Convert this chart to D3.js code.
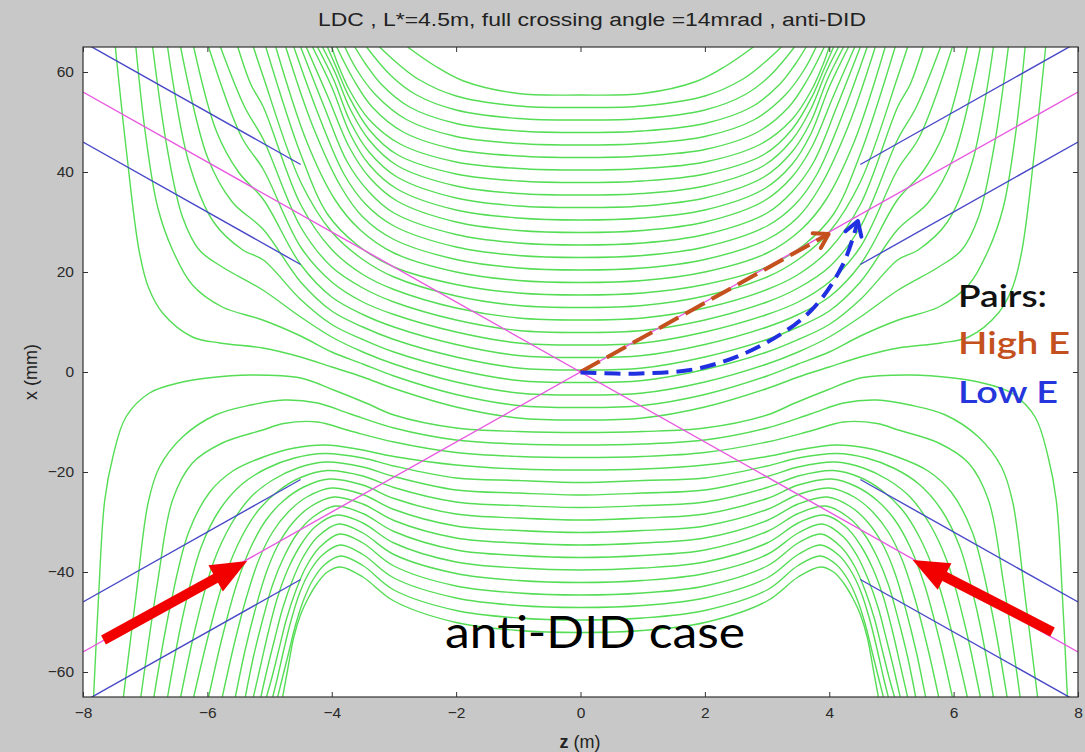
<!DOCTYPE html>
<html><head><meta charset="utf-8">
<script src="https://cdn.jsdelivr.net/npm/d3@7"></script>
<style>html,body{margin:0;padding:0;background:#c8c8c8;} svg{display:block;}</style>
</head><body><svg id="c" width="1085" height="752"></svg>
<script>
// ---------- data (z in m, x in mm); each field line given for z<=0, mirrored about z=0 ----------
const titleText = "LDC , L*=4.5m,  full crossing angle =14mrad , anti-DID";
const zTicks = [-8,-6,-4,-2,0,2,4,6,8];
const xTicks = [-60,-40,-20,0,20,40,60];

// lines leaving through the top in the central region
const upperExitLines = [
 [[0,55.4],[-1,55.7],[-1.88,58.2],[-2.35,61.3],[-2.78,65]],
 [[0,52.9],[-1,53.2],[-2,55.2],[-2.6,58.5],[-2.95,61.8],[-3.23,65]],
 [[0,50.4],[-1,50.7],[-2,52.4],[-2.65,55.5],[-3.05,59.3],[-3.44,65]],
 [[0,47.9],[-1,48.2],[-2,49.7],[-2.75,53],[-3.2,57.5],[-3.45,61.5],[-3.63,65]],
 [[0,45.4],[-1,45.7],[-2,47.1],[-2.8,50.5],[-3.3,55.5],[-3.6,60.5],[-3.79,65]],
 [[0,42.9],[-1,43.2],[-2,44.5],[-2.85,48],[-3.35,53],[-3.65,58.5],[-3.92,65]],
 [[0,40.4],[-1,40.7],[-2,42],[-2.9,45.6],[-3.4,50.5],[-3.72,56.5],[-3.9,61.5],[-4.0,65]]
];
// dense bundle near |z| = 4..5
const bundleLines = [
 [[0,37.9],[-1,38.2],[-2,39.6],[-2.95,43.5],[-3.4,48.5],[-3.72,55],[-3.93,61],[-4.07,65]],
 [[0,35.4],[-1,35.7],[-2,37.2],[-2.95,41.3],[-3.4,46.4],[-3.7,52.5],[-3.95,60],[-4.15,65]],
 [[0,32.9],[-1,33.2],[-2,34.8],[-2.95,39],[-3.4,44],[-3.7,50],[-3.97,58.5],[-4.23,65]],
 [[0,30.4],[-1,30.8],[-2,32.4],[-2.95,36.6],[-3.4,41.5],[-3.7,47.5],[-4.0,57],[-4.31,65]],
 [[0,27.9],[-1,28.3],[-2,30],[-2.95,34.2],[-3.4,39],[-3.72,45],[-4.06,55],[-4.41,65]],
 [[0,25.4],[-1,25.8],[-2,27.5],[-3,31.8],[-3.4,36],[-3.75,42],[-4.12,53],[-4.5,65]],
 [[0,22.9],[-1,23.3],[-2,25],[-3,29.2],[-3.45,33.5],[-3.8,39.5],[-4.2,51],[-4.61,65]],
 [[0,20.4],[-1,20.8],[-2,22.5],[-3,26.5],[-3.5,31],[-3.85,37],[-4.3,49],[-4.74,65]],
 [[0,17.9],[-1,18.3],[-2,20],[-3,23.8],[-3.55,28.5],[-3.95,34.5],[-4.4,46],[-4.9,65]],
 [[0,15.4],[-1,15.8],[-2,17.5],[-3,21],[-3.6,25.5],[-4.07,31.6],[-4.5,43.6],[-5.06,65]]
];
// upper outer fan
const fanLines = [
 [[0,12.9],[-1,13.3],[-2,15.2],[-3,19],[-3.5,22.5],[-4,28],[-4.5,38],[-5.1,59],[-5.26,65]],
 [[0,10.4],[-1,10.8],[-2,12.8],[-3,16.5],[-3.5,19.5],[-4,24.5],[-4.5,33.5],[-5.1,53],[-5.3,57.5],[-5.51,65]],
 [[0,7.9],[-1,8.3],[-2,10.4],[-3,14],[-3.5,16.8],[-4,21],[-4.5,29],[-5.1,46.5],[-5.4,53],[-5.79,65]],
 [[0,5.4],[-1,5.8],[-2,8],[-3,11.5],[-3.5,14],[-4,18],[-4.5,25],[-5.1,40.5],[-5.45,47],[-5.98,65]],
 [[0,2.9],[-1,3.3],[-2,5.5],[-3,9],[-3.5,11.5],[-4,15],[-4.5,21.5],[-5.1,34.5],[-5.5,40],[-5.85,48],[-6.22,65]],
 [[0,0.4],[-1,0.8],[-2,3],[-3,6.5],[-3.5,9],[-4,12.2],[-4.5,18],[-5.1,28.5],[-5.6,34],[-6,43],[-6.43,65]],
 [[0,-2.1],[-1,-1.7],[-2,0.5],[-3,4],[-3.5,6.5],[-4,9.5],[-4.5,14.5],[-5.1,22.4],[-5.43,24.4],[-5.9,30],[-6.3,42],[-6.64,65]],
 [[0,-4.6],[-1,-4.2],[-2,-2],[-3,1.6],[-3.5,4],[-4,7],[-4.5,11],[-5.11,16.4],[-5.76,21],[-6.13,24.4],[-6.4,31],[-6.65,45],[-6.88,65]],
 [[0,-7.1],[-1,-6.7],[-2,-4.5],[-3,-0.8],[-3.5,1.6],[-4,4],[-4.5,7.2],[-5.11,10.4],[-5.76,13],[-6.24,17.4],[-6.56,24.4],[-6.8,33],[-7.0,48],[-7.15,65]],
 [[0,-9.6],[-1,-9.2],[-2,-7],[-3,-3.3],[-3.5,-1],[-4,1],[-4.5,3],[-5.11,4.8],[-5.8,5.8],[-6.24,7],[-6.72,11.8],[-6.95,17],[-7.1,24.4],[-7.3,44],[-7.48,65]]
];
// lower lines (humps, lower outer fan), leaving through the bottom
const lowerLines = [
 [[0,-12.1],[-1,-11.9],[-2,-11.2],[-3,-8.6],[-3.45,-6.2],[-3.97,-3.6],[-4.5,-1.2],[-5.31,-0.6],[-6.0,-1.2],[-6.4,-2],[-6.93,-4.2],[-7.31,-9],[-7.52,-17],[-7.65,-25.6],[-7.75,-45],[-7.83,-65]],
 [[0,-14.6],[-1,-14.4],[-2,-13.6],[-3,-11.2],[-3.7,-8.4],[-4.23,-6.2],[-4.77,-5.6],[-5.3,-6.6],[-5.87,-8.6],[-6.4,-13],[-6.77,-19],[-6.95,-26],[-7.15,-45],[-7.35,-65]],
 [[0,-17.1],[-1,-16.9],[-2,-16.1],[-3,-14],[-3.7,-11.8],[-4.23,-10],[-4.77,-10.3],[-5.11,-11.6],[-5.76,-14.2],[-6.24,-18.2],[-6.56,-25.6],[-6.8,-42],[-7.07,-65]],
 [[0,-19.6],[-1,-19.4],[-2,-18.6],[-3,-16.9],[-3.6,-15.4],[-4.1,-14.6],[-4.6,-15.2],[-5.1,-17],[-5.59,-19.8],[-5.96,-24],[-6.3,-32],[-6.6,-47],[-6.86,-65]],
 [[0,-22.1],[-1,-21.7],[-2,-21.2],[-3,-18.8],[-3.5,-17.2],[-4.12,-16.3],[-4.6,-17.2],[-5.05,-19.3],[-5.45,-22.5],[-5.8,-27.5],[-6.1,-35],[-6.38,-48],[-6.64,-65]],
 [[0,-24.6],[-1,-24.2],[-2,-23.6],[-3,-20.9],[-3.5,-19],[-4.1,-18],[-4.55,-19.2],[-4.95,-21.6],[-5.3,-25],[-5.62,-30.5],[-5.9,-38],[-6.17,-50],[-6.43,-65]],
 [[0,-27.1],[-1,-26.7],[-2,-26],[-3,-23.1],[-3.5,-20.8],[-4.07,-19.7],[-4.5,-21.1],[-4.86,-23.8],[-5.17,-27.5],[-5.45,-33],[-5.72,-41],[-5.97,-52],[-6.22,-65]],
 [[0,-29.6],[-1,-29.2],[-2,-28.4],[-3,-25.3],[-3.5,-22.6],[-4.04,-21.4],[-4.45,-23],[-4.78,-25.8],[-5.05,-29.5],[-5.3,-35],[-5.53,-42.5],[-5.76,-53],[-5.98,-65]],
 [[0,-32.1],[-1,-31.7],[-2,-30.8],[-3,-27.5],[-3.5,-24.5],[-4.0,-23.2],[-4.4,-25],[-4.7,-28],[-4.95,-32],[-5.17,-37.5],[-5.37,-45],[-5.57,-54.5],[-5.76,-65]],
 [[0,-34.6],[-1,-34.2],[-2,-33.2],[-3,-29.7],[-3.5,-26.4],[-3.97,-25],[-4.35,-27],[-4.63,-30.2],[-4.86,-34.5],[-5.05,-40],[-5.23,-47.5],[-5.4,-56],[-5.55,-65]],
 [[0,-37.1],[-1,-36.7],[-2,-35.6],[-3,-31.9],[-3.5,-28.3],[-3.94,-26.8],[-4.3,-29],[-4.56,-32.4],[-4.77,-37],[-4.95,-42.5],[-5.11,-49.5],[-5.26,-57],[-5.39,-65]],
 [[0,-39.6],[-1,-39.2],[-2,-38],[-3,-34.2],[-3.5,-30.2],[-3.91,-28.6],[-4.27,-31],[-4.5,-34.6],[-4.7,-39.3],[-4.87,-45],[-5.01,-51.5],[-5.14,-58.5],[-5.26,-65]],
 [[0,-42.1],[-1,-41.7],[-2,-40.3],[-3,-36.5],[-3.5,-32.2],[-3.89,-30.4],[-4.23,-33],[-4.45,-36.8],[-4.63,-41.6],[-4.79,-47.3],[-4.92,-53.5],[-5.04,-59.5],[-5.14,-65]],
 [[0,-44.6],[-1,-44.2],[-2,-42.8],[-3,-38.8],[-3.5,-34.2],[-3.87,-32.4],[-4.19,-35],[-4.41,-38.9],[-4.58,-43.8],[-4.73,-49.5],[-4.85,-55.5],[-4.96,-61],[-5.05,-65]],
 [[0,-47.1],[-1,-46.7],[-2,-45.2],[-3,-41.2],[-3.5,-36.5],[-3.86,-34.6],[-4.15,-36.6],[-4.35,-39.8],[-4.51,-44],[-4.65,-49.5],[-4.77,-55.5],[-4.87,-61],[-4.95,-65]],
 [[0,-49.6],[-1,-49.2],[-2,-47.7],[-3,-43.6],[-3.5,-38.7],[-3.86,-36.8],[-4.12,-38.6],[-4.3,-41.5],[-4.45,-45.5],[-4.58,-50.5],[-4.7,-56.5],[-4.8,-61.5],[-4.87,-65]],
 [[0,-52.1],[-1,-51.7],[-2,-50.1],[-3,-45.8],[-3.5,-41],[-3.86,-39],[-4.07,-40],[-4.23,-42.2],[-4.39,-45.5],[-4.5,-48.5],[-4.61,-53],[-4.71,-59.6],[-4.79,-65]]
];

// beam lines (magenta) and beam-pipe apertures (blue)
const beamLines = [[[-8,56],[8,-56]], [[-8,-56],[8,56]]];
const apertureLines = [
 [[-8,66],[-4.5,41.5]], [[-8,46],[-4.5,21.5]],
 [[-8,-46],[-4.5,-21.5]], [[-8,-66],[-4.5,-41.5]],
 [[8,66],[4.5,41.5]], [[8,46],[4.5,21.5]],
 [[8,-46],[4.5,-21.5]], [[8,-66],[4.5,-41.5]]
];
// incoming beam arrows
const beamArrows = [[[-7.67,-53.6],[-5.36,-37.8]], [[7.59,-52],[5.34,-37.6]]];
// pair trajectories
const highEPath = [[0,0],[3.99,27.6]];
const lowEPath = [[0,-0.1],[0.96,-0.3],[1.93,0.8],[2.89,5.2],[3.7,12.2],[4.22,21.5],[4.46,30.2]];

const legendItems = [
 {label:"Pairs:", color:"#111111"},
 {label:"High E", color:"#c4501e"},
 {label:"Low E", color:"#2436dc"}
];

// ---------- drawing ----------
const W=1085,H=752, L=83,R=1078,T=47,B=697;
const svg = d3.select('#c');
svg.append('rect').attr('width',W).attr('height',H).attr('fill','#c8c8c8');
const xS = d3.scaleLinear().domain([-8,8]).range([L,R]);
const yS = d3.scaleLinear().domain([-65,65]).range([B,T]);

svg.append('rect').attr('x',L).attr('y',T).attr('width',R-L).attr('height',B-T).attr('fill','#ffffff');
svg.append('defs').append('clipPath').attr('id','clip')
  .append('rect').attr('x',L).attr('y',T).attr('width',R-L).attr('height',B-T);
const g = svg.append('g').attr('clip-path','url(#clip)');

const curveLine = d3.line().x(d=>xS(d[0])).y(d=>yS(d[1])).curve(d3.curveCatmullRom.alpha(0.5));
const straight = d3.line().x(d=>xS(d[0])).y(d=>yS(d[1]));
const mirror = half => half.slice().reverse().concat(half.slice(1).map(p=>[-p[0],p[1]]));

[...upperExitLines, ...bundleLines, ...fanLines, ...lowerLines].forEach(h=>{
  g.append('path').attr('d', curveLine(mirror(h))).attr('fill','none')
   .attr('stroke','#55dd55').attr('stroke-width',1.4);
});

beamLines.forEach(s=> g.append('path').attr('d',straight(s)).attr('fill','none')
  .attr('stroke','#e858e0').attr('stroke-width',1.4));
apertureLines.forEach(s=> g.append('path').attr('d',straight(s)).attr('fill','none')
  .attr('stroke','#4848c8').attr('stroke-width',1.4));

// red beam arrows
beamArrows.forEach(([a,b])=>{
  const x1=xS(a[0]), y1=yS(a[1]), x2=xS(b[0]), y2=yS(b[1]);
  const dx=x2-x1, dy=y2-y1, len=Math.hypot(dx,dy), ux=dx/len, uy=dy/len;
  const hl=36, hw=15;
  const bx=x2-ux*hl, by=y2-uy*hl;
  g.append('line').attr('x1',x1).attr('y1',y1).attr('x2',bx+ux*2).attr('y2',by+uy*2)
   .attr('stroke','#f20000').attr('stroke-width',10);
  g.append('path').attr('d',`M${x2},${y2}L${bx-uy*hw},${by+ux*hw}L${bx+uy*hw},${by-ux*hw}Z`)
   .attr('fill','#f20000');
});

// dashed pair trajectories with open heads
function openHead(p, q, color){
  const x1=xS(p[0]), y1=yS(p[1]), x2=xS(q[0]), y2=yS(q[1]);
  const a=Math.atan2(y2-y1,x2-x1), l=16, s=0.55;
  const pts=[[x2-l*Math.cos(a-s), y2-l*Math.sin(a-s)],[x2,y2],[x2-l*Math.cos(a+s), y2-l*Math.sin(a+s)]];
  g.append('path').attr('d', d3.line()(pts)).attr('fill','none').attr('stroke',color)
   .attr('stroke-width',4).attr('stroke-linecap','round').attr('stroke-linejoin','round');
}
g.append('path').attr('d',straight(highEPath)).attr('fill','none').attr('stroke','#c4501e')
  .attr('stroke-width',4).attr('stroke-dasharray','22,8');
openHead(highEPath[0], highEPath[1], '#c4501e');
g.append('path').attr('d',curveLine(lowEPath)).attr('fill','none').attr('stroke','#2030e0')
  .attr('stroke-width',4).attr('stroke-dasharray','16,8');
openHead(lowEPath[lowEPath.length-2], lowEPath[lowEPath.length-1], '#2030e0');

// axes
const font = "'Liberation Sans', Arial, sans-serif";
const axB = svg.append('g').attr('transform',`translate(0,${B})`)
  .call(d3.axisBottom(xS).tickValues(zTicks).tickSizeInner(-5).tickSizeOuter(0).tickPadding(10).tickFormat(d3.format('d')));
const axT = svg.append('g').attr('transform',`translate(0,${T})`)
  .call(d3.axisTop(xS).tickValues(zTicks).tickSizeInner(-5).tickSizeOuter(0).tickFormat(''));
const axL = svg.append('g').attr('transform',`translate(${L},0)`)
  .call(d3.axisLeft(yS).tickValues(xTicks).tickSizeInner(-5).tickSizeOuter(0).tickPadding(9).tickFormat(d3.format('d')));
const axR = svg.append('g').attr('transform',`translate(${R},0)`)
  .call(d3.axisRight(yS).tickValues(xTicks).tickSizeInner(-5).tickSizeOuter(0).tickFormat(''));
[axB,axT,axL,axR].forEach(a=>{
  a.select('.domain').remove();
  a.selectAll('line').attr('stroke','#333');
  a.selectAll('text').attr('font-family',font).attr('font-size',15.5).attr('fill','#2a2a2a');
});
svg.append('rect').attr('x',L).attr('y',T).attr('width',R-L).attr('height',B-T)
  .attr('fill','none').attr('stroke','#333').attr('stroke-width',1.2);

// titles
svg.append('text').attr('x',592).attr('y',26).attr('text-anchor','middle')
  .attr('font-family',font).attr('font-size',18).attr('fill','#222')
  .attr('textLength',548).attr('lengthAdjust','spacingAndGlyphs').text(titleText);
const zl = svg.append('text').attr('x',580).attr('y',748).attr('text-anchor','middle')
  .attr('font-family',font).attr('font-size',18).attr('fill','#222');
zl.append('tspan').attr('font-weight','bold').text('z');
zl.append('tspan').text(' (m)');
svg.append('text').attr('transform','translate(37,372) rotate(-90)').attr('text-anchor','middle')
  .attr('font-family',font).attr('font-size',18).attr('fill','#222').text('x (mm)');

// legend-like labels
const lf = "Lato, 'Open Sans', sans-serif";
const legY=[307,354,403], legW=[89,112,100];
legendItems.forEach((d,i)=>{
  svg.append('text').attr('x',958).attr('y',legY[i]).attr('font-family',lf).attr('font-size',31)
    .attr('font-weight',600).attr('fill',d.color).attr('textLength',legW[i])
    .attr('lengthAdjust','spacingAndGlyphs').text(d.label);
});
svg.append('text').attr('x',445).attr('y',648).attr('font-family',lf).attr('font-size',44)
  .attr('fill','#000').attr('textLength',300).attr('lengthAdjust','spacingAndGlyphs').text('anti-DID case');
</script>
</body></html>
